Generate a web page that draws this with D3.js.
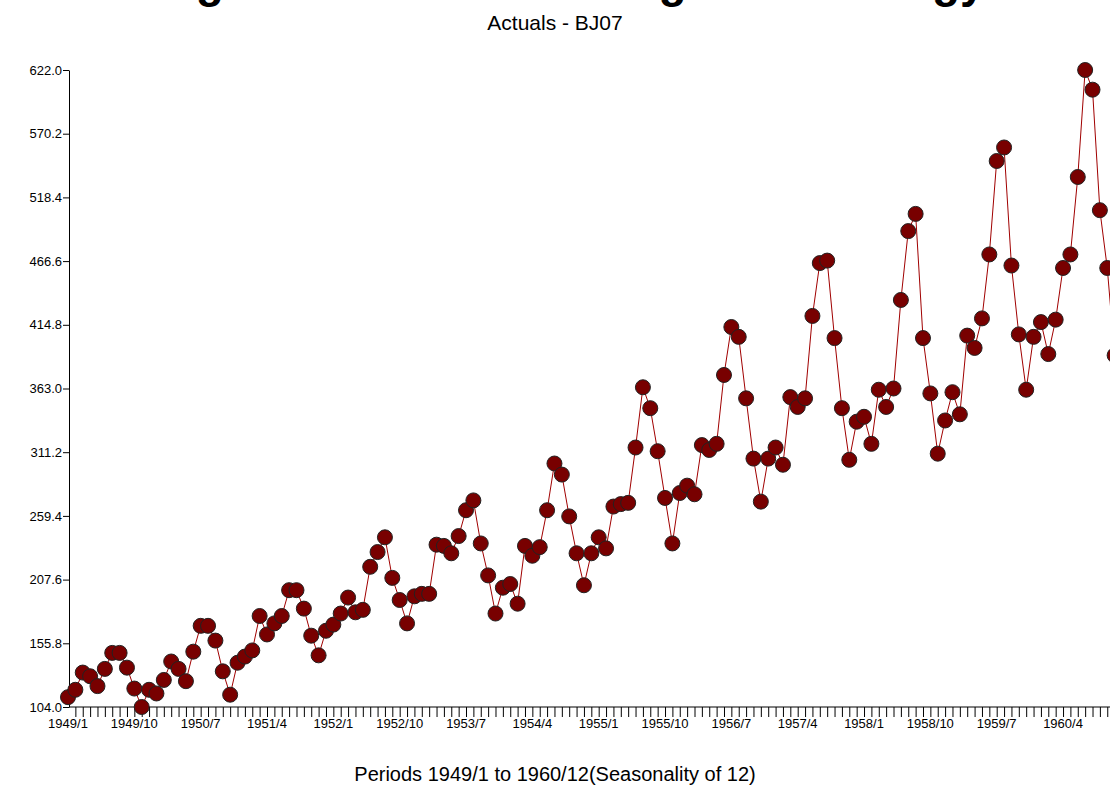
<!DOCTYPE html><html><head><meta charset="utf-8"><script src="https://cdn.jsdelivr.net/npm/d3@7"></script>
<style>body{margin:0;background:#fff}</style></head><body><svg id="c" width="1110" height="794"></svg>
<script>
const years=[1949,1950,1951,1952,1953,1954,1955,1956,1957,1958,1959,1960];
const values=[112,118,132,129,121,135,148,148,136,119,104,118,
115,126,141,135,125,149,170,170,158,133,114,140,
145,150,178,163,172,178,199,199,184,162,146,166,
171,180,193,181,183,218,230,242,209,191,172,194,
196,196,236,235,229,243,264,272,237,211,180,201,
204,188,235,227,234,264,302,293,259,229,203,229,
242,233,267,269,270,315,364,347,312,274,237,278,
284,277,317,313,318,374,413,405,355,306,271,306,
315,301,356,348,355,422,465,467,404,347,305,336,
340,318,362,348,363,435,491,505,404,359,310,337,
360,342,406,396,420,472,548,559,463,407,362,405,
417,391,419,461,472,535,622,606,508,461,390,432];
const yTicks=[104.0,155.8,207.6,259.4,311.2,363.0,414.8,466.6,518.4,570.2,622.0];
const periods=values.map((v,i)=>years[Math.floor(i/12)]+"/"+(i%12+1));
const svg=d3.select("#c");
const x=d3.scaleLinear().domain([0,143]).range([68,1122]);
const y=d3.scaleLinear().domain([104,622]).range([707,70]);
svg.append("text").attr("x",555).attr("y",-3).attr("text-anchor","middle").attr("font-family","Liberation Sans, Arial").attr("font-weight","bold").attr("font-size",46).text("Single Series Forecasting Methodology");
svg.append("text").attr("x",555).attr("y",30).attr("text-anchor","middle").attr("font-family","Liberation Sans Narrow, Liberation Sans, Arial").attr("font-size",21).text("Actuals - BJ07");
const ya=svg.append("g").attr("transform","translate(69,0)").call(d3.axisLeft(y).tickValues(yTicks).tickFormat(d3.format(".1f")).tickSize(6).tickSizeOuter(0));
ya.selectAll("text").attr("font-family","Liberation Sans Narrow, Liberation Sans, Arial").attr("font-size",13).attr("fill","#000").attr("dx",2);
const xa=svg.append("g").attr("transform","translate(0,707)").call(d3.axisBottom(x).tickValues(d3.range(1,144)).tickFormat("").tickSize(10).tickSizeOuter(0));
xa.select(".domain").attr("d","M69,0H1110");
svg.append("g").selectAll("text").data(d3.range(0,144,9)).join("text").attr("x",d=>x(d)).attr("y",728).attr("text-anchor","middle").attr("font-family","Liberation Sans Narrow, Liberation Sans, Arial").attr("font-size",13).text(d=>periods[d]);
svg.append("text").attr("x",555).attr("y",781).attr("text-anchor","middle").attr("font-family","Liberation Sans, Arial").attr("font-size",20).text("Periods 1949/1 to 1960/12(Seasonality of 12)");
svg.append("path").datum(values).attr("fill","none").attr("stroke","#a00000").attr("stroke-width",1).attr("d",d3.line().x((d,i)=>x(i)).y(d=>y(d)));
svg.append("g").selectAll("circle").data(values).join("circle").attr("cx",(d,i)=>x(i)).attr("cy",d=>y(d)).attr("r",7.5).attr("fill","#780000").attr("stroke","#222").attr("stroke-width",1);
</script></body></html>
